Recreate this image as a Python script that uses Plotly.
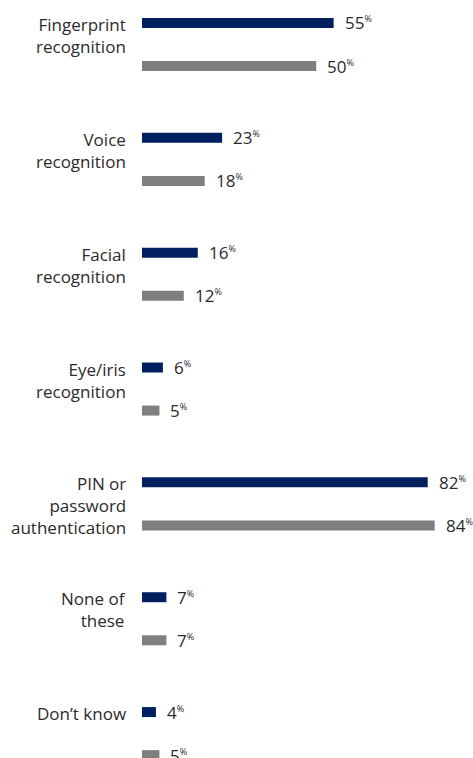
import plotly.graph_objects as go

# Survey responses: authentication methods used (percent)
categories = [
    "Fingerprint<br>recognition",
    "Voice<br>recognition",
    "Facial<br>recognition",
    "Eye/iris<br>recognition",
    "PIN or<br>password<br>authentication",
    "None of<br>these",
    "Don\u2019t know",
]
series_a = [55, 23, 16, 6, 82, 7, 4]
series_b = [50, 18, 12, 5, 84, 7, 5]

NAVY = "#002060"
GREY = "#7f7f7f"
TEXT = "#2b2b2b"
FONT = "Open Sans"

# Row layout: each category occupies one unit, second bar sits below the first
row_offset = 0.375
bar_w = 0.087
idx = list(range(len(categories)))
y_a = [i for i in idx]
y_b = [i + row_offset for i in idx]

fig = go.Figure()
fig.add_trace(go.Bar(x=series_a, y=y_a, orientation="h", width=bar_w,
                     marker=dict(color=NAVY, line=dict(width=0)),
                     hoverinfo="skip", showlegend=False))
fig.add_trace(go.Bar(x=series_b, y=y_b, orientation="h", width=bar_w,
                     marker=dict(color=GREY, line=dict(width=0)),
                     hoverinfo="skip", showlegend=False))

pct = "<sup><span style='font-size:9px'>%</span></sup>"
annotations = []
for vals, ys in ((series_a, y_a), (series_b, y_b)):
    for v, y in zip(vals, ys):
        annotations.append(dict(
            x=v, y=y, xref="x", yref="y", text=f"{v}{pct}",
            showarrow=False, xanchor="left", yanchor="middle", xshift=9,
            font=dict(family=FONT, size=17, color=TEXT)))

for cat, y in zip(categories, y_a):
    annotations.append(dict(
        x=0, y=y - bar_w / 2, xref="paper", yref="y", text=cat,
        showarrow=False, xanchor="right", yanchor="top", align="right",
        xshift=-14, yshift=7,
        font=dict(family=FONT, size=17, color=TEXT)))

fig.update_layout(
    width=473, height=758,
    margin=dict(l=142, r=0, t=0, b=0),
    paper_bgcolor="white", plot_bgcolor="white",
    barmode="overlay",
    xaxis=dict(range=[0, 95.0], visible=False, fixedrange=True),
    yaxis=dict(range=[6.40, -0.20], visible=False, fixedrange=True),
    annotations=annotations,
    font=dict(family=FONT, color=TEXT),
)

fig.write_html("out.html", config={"displayModeBar": False})
